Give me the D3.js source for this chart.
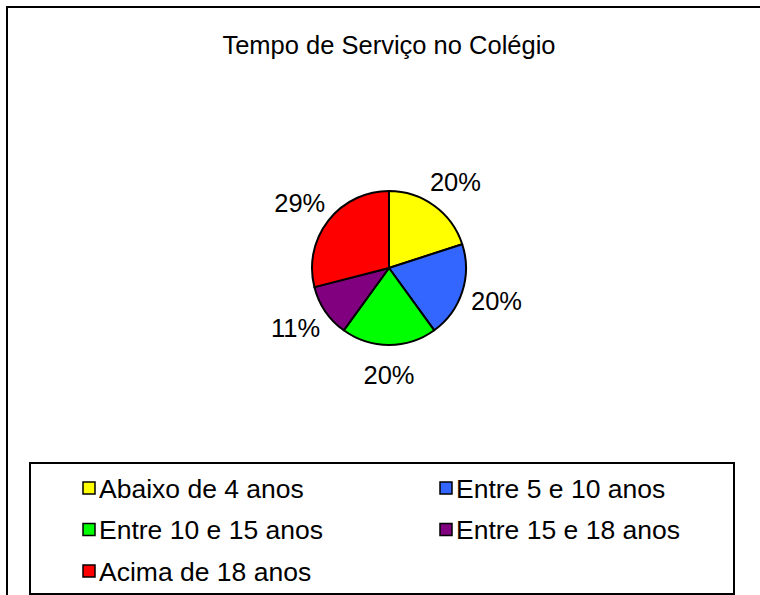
<!DOCTYPE html>
<html>
<head>
<meta charset="utf-8">
<script src="https://cdn.jsdelivr.net/npm/d3@7"></script>
<style>
  body { margin: 0; background: #fff; }
  svg { display: block; font-family: "Liberation Sans", Arial, sans-serif; }
</style>
</head>
<body>
<svg id="chart" width="760" height="595"></svg>
<script>
// Tempo de Serviço no Colégio
var title = "Tempo de Serviço no Colégio";
var categories = ["Abaixo de 4 anos", "Entre 5 e 10 anos", "Entre 10 e 15 anos", "Entre 15 e 18 anos", "Acima de 18 anos"];
var values = [20, 20, 20, 11, 29];
var colors = ["#ffff00", "#3366ff", "#00ff00", "#800080", "#ff0000"];

var width = 760, height = 595;
var cx = 389, cy = 268, radius = 77;

var svg = d3.select("#chart");

// outer frame (runs past the right/bottom edge)
svg.append("rect")
  .attr("x", 7).attr("y", 7)
  .attr("width", 800).attr("height", 700)
  .attr("fill", "none").attr("stroke", "#000").attr("stroke-width", 2);

svg.append("text")
  .attr("x", cx).attr("y", 54)
  .attr("text-anchor", "middle")
  .style("font-size", "25.5px")
  .text(title);

var color = d3.scaleOrdinal().domain(categories).range(colors);

var pie = d3.pie().sort(null).value(d => d.v);
var arcs = pie(categories.map((c, i) => ({ name: c, v: values[i] })));
var arc = d3.arc().innerRadius(0).outerRadius(radius);
var total = d3.sum(values);

var g = svg.append("g").attr("transform", `translate(${cx},${cy})`);

g.selectAll("path")
  .data(arcs)
  .join("path")
  .attr("d", arc)
  .attr("fill", d => color(d.data.name))
  .attr("stroke", "#000")
  .attr("stroke-width", 2)
  .attr("stroke-linejoin", "round");

// labels sit just outside the pie, pushed sideways a little on the right/left
var labelArc = d3.arc().innerRadius(107).outerRadius(107);
g.selectAll("text.pct")
  .data(arcs)
  .join("text")
  .attr("class", "pct")
  .attr("transform", d => {
    var p = labelArc.centroid(d);
    var a = (d.startAngle + d.endAngle) / 2;
    return `translate(${p[0] + 6 * Math.sin(a)},${p[1]})`;
  })
  .attr("text-anchor", "middle")
  .attr("dy", "0.36em")
  .style("font-size", "25.5px")
  .text(d => Math.round(d.data.v / total * 100) + "%");

// legend
var legend = svg.append("g");
legend.append("rect")
  .attr("x", 30).attr("y", 463)
  .attr("width", 704).attr("height", 131)
  .attr("fill", "#fff").attr("stroke", "#000").attr("stroke-width", 2);

var colX = d3.scaleOrdinal().domain([0, 1]).range([83, 440]);
var rowY = d3.scaleLinear().domain([0, 1]).range([488, 529.5]);

var item = legend.selectAll("g.item")
  .data(categories)
  .join("g")
  .attr("class", "item")
  .attr("transform", (d, i) => `translate(${colX(i % 2)},${rowY(Math.floor(i / 2))})`);

item.append("rect")
  .attr("x", 0).attr("y", -6)
  .attr("width", 12).attr("height", 12)
  .attr("fill", d => color(d))
  .attr("stroke", "#000").attr("stroke-width", 1.5);

item.append("text")
  .attr("x", 16).attr("dy", "0.36em")
  .style("font-size", "26.5px")
  .text(d => d);
</script>
</body>
</html>
